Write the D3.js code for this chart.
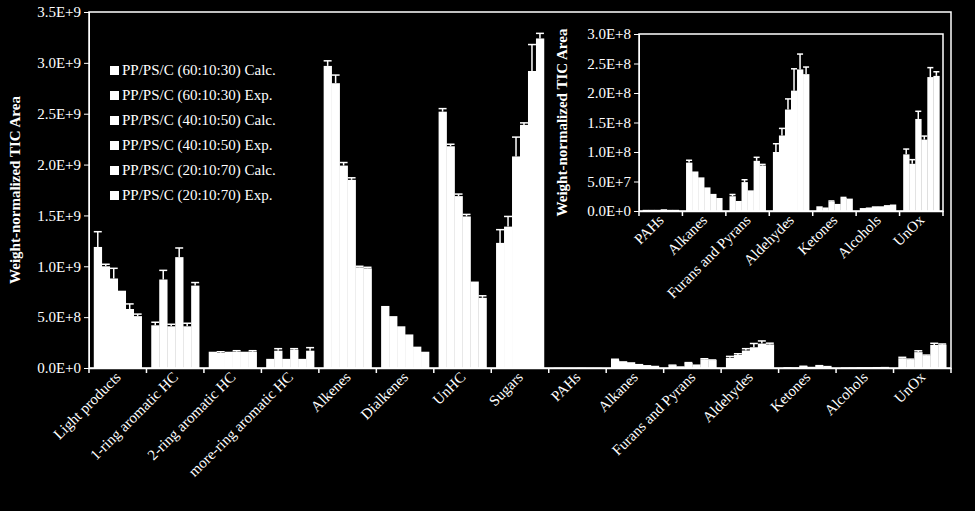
<!DOCTYPE html>
<html><head><meta charset="utf-8">
<script src="https://cdn.jsdelivr.net/npm/d3@7"></script>
<style>
  body { margin: 0; background: #000; }
  text { font-family: "Liberation Serif", "Times New Roman", serif; fill: #fff; }
</style></head>
<body><svg id="chart" width="975" height="511"></svg>
<script>
// series labels
const seriesNames = ["PP/PS/C (60:10:30) Calc.", "PP/PS/C (60:10:30) Exp.",
  "PP/PS/C (40:10:50) Calc.", "PP/PS/C (40:10:50) Exp.",
  "PP/PS/C (20:10:70) Calc.", "PP/PS/C (20:10:70) Exp."];

const mainCats = ["Light products", "1-ring aromatic HC", "2-ring aromatic HC", "more-ring aromatic HC",
  "Alkenes", "Dialkenes", "UnHC", "Sugars", "PAHs", "Alkanes", "Furans and Pyrans",
  "Aldehydes", "Ketones", "Alcohols", "UnOx"];
const insetCats = ["PAHs", "Alkanes", "Furans and Pyrans", "Aldehydes", "Ketones", "Alcohols", "UnOx"];

// hydrocarbon groups, values in 1E9
const hcValues = [
  [1.19, 1.00, 0.88, 0.76, 0.58, 0.51],
  [0.42, 0.87, 0.41, 1.09, 0.41, 0.81],
  [0.16, 0.15, 0.16, 0.16, 0.16, 0.16],
  [0.09, 0.17, 0.09, 0.18, 0.09, 0.17],
  [2.97, 2.80, 1.99, 1.85, 0.99, 0.98],
  [0.61, 0.51, 0.41, 0.33, 0.21, 0.16],
  [2.52, 2.18, 1.69, 1.49, 0.85, 0.69],
  [1.23, 1.39, 2.08, 2.39, 2.92, 3.24]
];
const hcErrors = [
  [0.15, 0.02, 0.10, 0.00, 0.05, 0.02],
  [0.03, 0.09, 0.02, 0.09, 0.03, 0.03],
  [0.00, 0.01, 0.00, 0.01, 0.00, 0.01],
  [0.00, 0.02, 0.00, 0.01, 0.00, 0.03],
  [0.05, 0.08, 0.03, 0.02, 0.01, 0.01],
  [0.00, 0.00, 0.00, 0.00, 0.00, 0.00],
  [0.03, 0.02, 0.02, 0.02, 0.00, 0.02],
  [0.13, 0.10, 0.19, 0.02, 0.26, 0.05]
];
// oxygenated groups, values in 1E8
const oxValues = [
  [0.02, 0.02, 0.02, 0.03, 0.02, 0.02],
  [0.82, 0.67, 0.57, 0.40, 0.29, 0.22],
  [0.25, 0.17, 0.49, 0.35, 0.85, 0.77],
  [1.00, 1.28, 1.72, 2.04, 2.40, 2.32],
  [0.08, 0.06, 0.16, 0.12, 0.22, 0.21],
  [0.05, 0.06, 0.08, 0.08, 0.10, 0.11],
  [0.96, 0.80, 1.56, 1.21, 2.27, 2.29]
];
const oxErrors = [
  [0.00, 0.00, 0.00, 0.00, 0.00, 0.00],
  [0.04, 0.00, 0.00, 0.00, 0.00, 0.00],
  [0.03, 0.00, 0.04, 0.00, 0.06, 0.02],
  [0.14, 0.12, 0.18, 0.37, 0.26, 0.12],
  [0.00, 0.00, 0.01, 0.00, 0.01, 0.00],
  [0.00, 0.00, 0.00, 0.00, 0.00, 0.00],
  [0.09, 0.07, 0.13, 0.06, 0.16, 0.07]
];
const mainTicks = [0, 0.5e9, 1e9, 1.5e9, 2e9, 2.5e9, 3e9, 3.5e9];
const insetTicks = [0, 0.5e8, 1e8, 1.5e8, 2e8, 2.5e8, 3e8];

const svg = d3.select("#chart");
const fmt = v => v === 0 ? "0.0E+0" : (() => { const e = Math.floor(Math.log10(v)); return (v / 10 ** e).toFixed(1) + "E+" + e; })();

function panel(o) {
  const g = svg.append("g");
  const x = d3.scaleBand().domain(o.cats).range([o.x0, o.x1]);
  const y = d3.scaleLinear().domain([0, o.max]).range([o.y0, o.y1]);
  const xs = d3.scaleBand().domain(d3.range(6)).range([0, x.bandwidth()]).paddingOuter(0.6);

  const rows = o.values.map((vs, i) => vs.map((v, j) => ({ c: o.cats[i], j, v: v * o.unit, e: o.errors[i][j] * o.unit })));
  const flat = rows.flat();
  g.selectAll("rect.bar").data(flat).enter().append("rect")
    .attr("x", d => x(d.c) + xs(d.j)).attr("width", xs.bandwidth() + 0.3)
    .attr("y", d => y(d.v)).attr("height", d => y(0) - y(d.v)).attr("fill", "#fff");
  const eb = g.selectAll("g.err").data(flat.filter(d => d.e > 0)).enter().append("g")
    .attr("stroke", "#fff").attr("stroke-width", 1.5);
  eb.append("line").attr("x1", d => x(d.c) + xs(d.j) + xs.bandwidth() / 2).attr("x2", d => x(d.c) + xs(d.j) + xs.bandwidth() / 2)
    .attr("y1", d => y(d.v)).attr("y2", d => y(d.v + d.e));
  eb.append("line").attr("x1", d => x(d.c) + xs(d.j)).attr("x2", d => x(d.c) + xs(d.j) + xs.bandwidth())
    .attr("y1", d => y(d.v + d.e)).attr("y2", d => y(d.v + d.e));

  // frame
  g.append("rect").attr("x", o.x0).attr("y", o.y1).attr("width", o.x1 - o.x0).attr("height", o.y0 - o.y1)
    .attr("fill", "none").attr("stroke", "#fff").attr("stroke-width", 1.5);

  const ya = g.append("g").attr("transform", `translate(${o.x0},0)`)
    .call(d3.axisLeft(y).tickValues(o.ticks).tickFormat(fmt).tickSize(5));
  ya.selectAll("line").attr("stroke", "#fff");
  ya.select(".domain").attr("stroke", "#fff");
  ya.selectAll("text").style("font-size", o.fs + "px").style("font-family", "Liberation Serif").attr("fill", "#fff");

  const xa = g.append("g").attr("transform", `translate(0,${o.y0})`)
    .call(d3.axisBottom(x).tickSize(0).tickFormat(""));
  xa.select(".domain").attr("stroke", "#fff").attr("stroke-width", 1.5);
  g.selectAll("line.xt").data(d3.range(o.cats.length + 1)).enter().append("line")
    .attr("x1", i => o.x0 + i * x.step()).attr("x2", i => o.x0 + i * x.step())
    .attr("y1", o.y0).attr("y2", o.y0 + 5).attr("stroke", "#fff").attr("stroke-width", 1.5);
  g.selectAll("text.xl").data(o.cats).enter().append("text")
    .attr("transform", d => `translate(${x(d) + x.bandwidth() / 2 + 4},${o.y0 + 10}) rotate(-45)`)
    .attr("text-anchor", "end").style("font-size", o.fs + "px").text(d => d);

  g.append("text").attr("transform", `translate(${o.labelX},${(o.y0 + o.y1) / 2}) rotate(-90)`)
    .attr("text-anchor", "middle").style("font-size", o.fs + "px").style("font-weight", "bold")
    .text("Weight-normalized TIC Area");
}

panel({ cats: mainCats, values: hcValues.concat(oxValues.map(r => r.map(v => v / 10))),
  errors: hcErrors.concat(oxErrors.map(r => r.map(v => v / 10))), unit: 1e9,
  x0: 89, x1: 951, y0: 368, y1: 12, max: 3.5e9, ticks: mainTicks, fs: 15, labelX: 20 });

panel({ cats: insetCats, values: oxValues, errors: oxErrors, unit: 1e8,
  x0: 639, x1: 943, y0: 211, y1: 34, max: 3e8, ticks: insetTicks, fs: 15, labelX: 567 });

// legend
const lg = svg.append("g").attr("transform", "translate(110,75)");
const li = lg.selectAll("g").data(seriesNames).enter().append("g")
  .attr("transform", (d, i) => `translate(0,${i * 25})`);
li.append("rect").attr("x", 0).attr("y", -9).attr("width", 9).attr("height", 9).attr("fill", "#fff");
li.append("text").attr("x", 12).attr("y", 0).style("font-size", "15px").text(d => d);
</script></body></html>
